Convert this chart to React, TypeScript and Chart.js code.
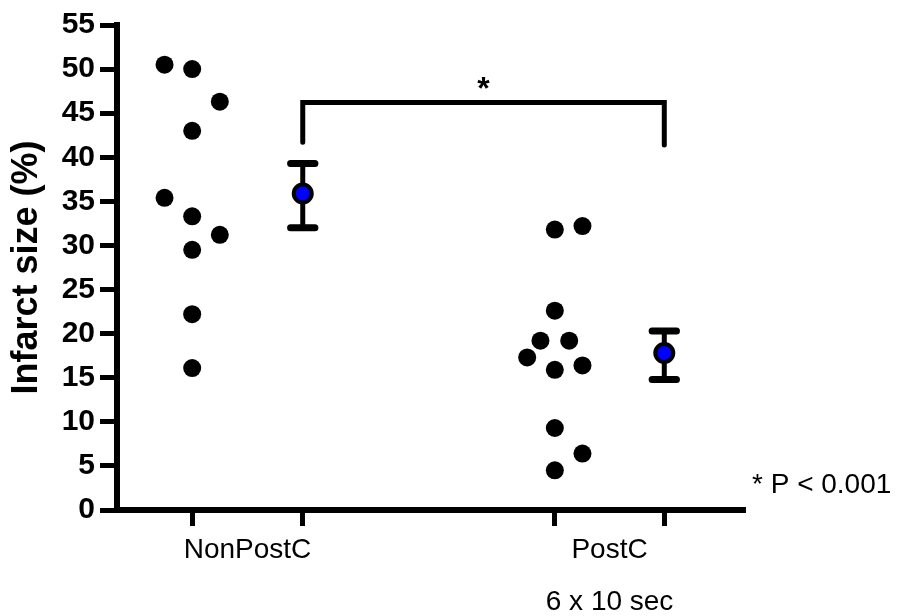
import React, { useEffect, useRef } from "react";
import { Chart, registerables } from "chart.js";

Chart.register(...registerables);

const FONT = "'Liberation Sans', Arial, Helvetica, sans-serif";

// x positions of the group tick marks (scatter column, mean column) per group
const tickPositions = [1, 2, 4.28, 5.27];
const groupLabels = [["NonPostC"], ["PostC", "6 x 10 sec"]];

// individual values
const nonPostCX = [0.75, 1, 1.25, 1, 0.75, 1, 1.25, 1, 1, 1];
const nonPostCY = [50.5, 50.0, 46.3, 43.0, 35.4, 33.3, 31.2, 29.5, 22.2, 16.1];
const postCX = [4.28, 4.53, 4.28, 4.15, 4.41, 4.03, 4.28, 4.53, 4.28, 4.53, 4.28];
const postCY = [31.8, 32.2, 22.6, 19.2, 19.2, 17.3, 15.9, 16.4, 9.3, 6.4, 4.5];

// means and error bars
const meanX = [2, 5.27];
const meanY = [35.9, 17.8];
const errUpper = [39.3, 20.3];
const errLower = [32.0, 14.8];
const capHalf = 0.11;

// significance bracket
const bracketX = [2, 2, 5.27, 5.27];
const bracketY = [41.7, 46.2, 46.2, 41.4];
const starLabel = "*";
const pValueLabel = "* P < 0.001";
const pValueY = 1.9;

const yMin = 0;
const yMax = 55;
const yStep = 5;

const groupMids = [
  (tickPositions[0] + tickPositions[1]) / 2,
  (tickPositions[2] + tickPositions[3]) / 2,
];

const annotationPlugin = {
  id: "annotations",
  afterDraw(chart: any) {
    const { ctx, scales, chartArea } = chart;
    const xs = scales.x;
    const ys = scales.y;
    ctx.save();
    ctx.fillStyle = "#000";
    // star above bracket
    ctx.font = `bold 32px ${FONT}`;
    ctx.textAlign = "center";
    ctx.textBaseline = "alphabetic";
    const sx = xs.getPixelForValue((bracketX[1] + bracketX[2]) / 2);
    const sy = ys.getPixelForValue(bracketY[1]) - 4;
    ctx.fillText(starLabel, sx, sy);
    // p value
    ctx.font = `28px ${FONT}`;
    ctx.textAlign = "left";
    ctx.fillText(pValueLabel, chartArea.right + 7, ys.getPixelForValue(pValueY));
    ctx.restore();
  },
};

export default function App() {
  const ref = useRef<HTMLCanvasElement | null>(null);

  useEffect(() => {
    if (!ref.current) return;
    const stems: any[] = [];
    const caps: any[] = [];
    meanX.forEach((x, i) => {
      stems.push({ x, y: errLower[i] }, { x, y: errUpper[i] }, { x, y: null });
      caps.push(
        { x: x - capHalf, y: errUpper[i] },
        { x: x + capHalf, y: errUpper[i] },
        { x, y: null },
        { x: x - capHalf, y: errLower[i] },
        { x: x + capHalf, y: errLower[i] },
        { x, y: null }
      );
    });

    const chart = new Chart(ref.current, {
      type: "scatter",
      data: {
        datasets: [
          {
            type: "line",
            label: "bracket",
            data: bracketX.map((x, i) => ({ x, y: bracketY[i] })),
            borderColor: "#000",
            borderWidth: 5,
            pointRadius: 0,
            borderCapStyle: "round",
            borderJoinStyle: "miter",
            fill: false,
            order: 5,
          } as any,
          {
            type: "line",
            label: "stems",
            data: stems,
            borderColor: "#000",
            borderWidth: 5,
            pointRadius: 0,
            spanGaps: false,
            fill: false,
            order: 4,
          } as any,
          {
            type: "line",
            label: "caps",
            data: caps,
            borderColor: "#000",
            borderWidth: 7,
            pointRadius: 0,
            borderCapStyle: "round",
            spanGaps: false,
            fill: false,
            order: 4,
          } as any,
          {
            label: "NonPostC",
            data: nonPostCX.map((x, i) => ({ x, y: nonPostCY[i] })),
            backgroundColor: "#000",
            borderWidth: 0,
            pointRadius: 9,
            order: 2,
          },
          {
            label: "PostC",
            data: postCX.map((x, i) => ({ x, y: postCY[i] })),
            backgroundColor: "#000",
            borderWidth: 0,
            pointRadius: 9,
            order: 2,
          },
          {
            label: "Mean",
            data: meanX.map((x, i) => ({ x, y: meanY[i] })),
            backgroundColor: "#0000FF",
            borderColor: "#000",
            borderWidth: 4,
            pointRadius: 9,
            order: 0,
          },
        ],
      },
      options: {
        responsive: false,
        animation: false,
        layout: { padding: { left: 0, top: 25, right: 155, bottom: 0 } },
        plugins: { legend: { display: false }, tooltip: { enabled: false } },
        scales: {
          x: {
            type: "linear",
            min: 0.32,
            max: 6.0,
            afterBuildTicks: (scale: any) => {
              const vals = [...tickPositions, ...groupMids].sort((a, b) => a - b);
              scale.ticks = vals.map((v) => ({ value: v }));
            },
            afterFit: (scale: any) => {
              scale.height = 106;
            },
            ticks: {
              autoSkip: false,
              maxRotation: 0,
              minRotation: 0,
              padding: -2,
              color: "#000",
              font: { family: FONT, size: 28, lineHeight: "52px" } as any,
              callback: (value: any) => {
                const i = groupMids.indexOf(Number(value));
                return i >= 0 ? groupLabels[i] : "";
              },
            },
            grid: {
              drawOnChartArea: false,
              drawTicks: true,
              tickLength: 16,
              tickWidth: 5,
              tickColor: (ctx: any) =>
                ctx.tick && groupMids.indexOf(ctx.tick.value) >= 0 ? "rgba(0,0,0,0)" : "#000",
            },
            border: { color: "#000", width: 6 },
          },
          y: {
            type: "linear",
            min: yMin,
            max: yMax,
            afterFit: (scale: any) => {
              scale.width = 117;
            },
            ticks: {
              stepSize: yStep,
              padding: 5,
              color: "#000",
              font: { family: FONT, size: 30, weight: "bold" },
            },
            grid: {
              drawOnChartArea: false,
              drawTicks: true,
              tickLength: 17,
              tickWidth: 5,
              tickColor: "#000",
            },
            border: { color: "#000", width: 6 },
            title: {
              display: true,
              text: "Infarct size (%)",
              color: "#000",
              font: { family: FONT, size: 36, weight: "bold" },
              padding: { top: 5, bottom: 0 },
            },
          },
        },
      },
      plugins: [annotationPlugin],
    });
    return () => chart.destroy();
  }, []);

  return (
    <div style={{ position: "absolute", left: 0, top: 0, width: 900, height: 616, background: "#fff" }}>
      <canvas ref={ref} width={900} height={616} />
    </div>
  );
}
